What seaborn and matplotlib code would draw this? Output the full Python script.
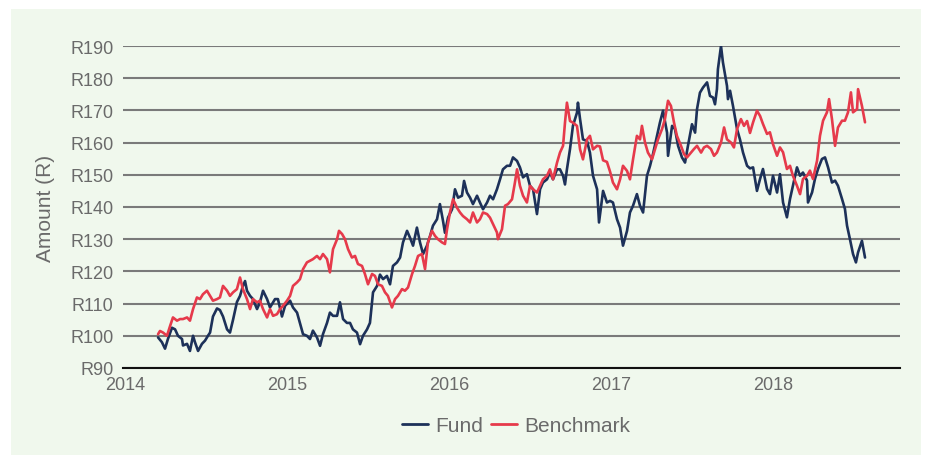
import matplotlib
matplotlib.use("Agg")
import matplotlib.pyplot as plt
import matplotlib.patches as mpatches
import seaborn as sns
import pandas as pd

# ---- data ----
fund_years = [
    2014.204, 2014.228, 2014.247, 2014.265, 2014.290, 2014.309, 2014.327, 2014.352, 2014.358, 2014.383,
    2014.401, 2014.420, 2014.432, 2014.451, 2014.475, 2014.494, 2014.512, 2014.525, 2014.543, 2014.568,
    2014.586, 2014.605, 2014.630, 2014.648, 2014.667, 2014.691, 2014.710, 2014.728, 2014.741, 2014.753,
    2014.772, 2014.790, 2014.815, 2014.833, 2014.852, 2014.877, 2014.895, 2014.926, 2014.944, 2014.969,
    2014.988, 2015.019, 2015.037, 2015.062, 2015.080, 2015.099, 2015.123, 2015.142, 2015.160, 2015.185,
    2015.204, 2015.222, 2015.247, 2015.265, 2015.284, 2015.309, 2015.327, 2015.346, 2015.370, 2015.389,
    2015.407, 2015.432, 2015.451, 2015.469, 2015.494, 2015.512, 2015.531, 2015.556, 2015.574, 2015.593,
    2015.617, 2015.636, 2015.654, 2015.679, 2015.698, 2015.716, 2015.741, 2015.759, 2015.778, 2015.802,
    2015.821, 2015.840, 2015.864, 2015.883, 2015.901, 2015.926, 2015.944, 2015.963, 2015.975, 2015.994,
    2016.019, 2016.037, 2016.056, 2016.080, 2016.093, 2016.111, 2016.130, 2016.148, 2016.173, 2016.191,
    2016.210, 2016.235, 2016.253, 2016.272, 2016.296, 2016.315, 2016.333, 2016.358, 2016.377, 2016.395,
    2016.420, 2016.438, 2016.457, 2016.481, 2016.500, 2016.519, 2016.543, 2016.562, 2016.580, 2016.605,
    2016.623, 2016.642, 2016.667, 2016.685, 2016.704, 2016.716, 2016.728, 2016.747, 2016.765, 2016.790,
    2016.796, 2016.809, 2016.827, 2016.852, 2016.870, 2016.889, 2016.914, 2016.926, 2016.951, 2016.975,
    2016.994, 2017.012, 2017.037, 2017.056, 2017.074, 2017.099, 2017.117, 2017.136, 2017.160, 2017.179,
    2017.198, 2017.222, 2017.241, 2017.259, 2017.284, 2017.302, 2017.321, 2017.346, 2017.352, 2017.377,
    2017.395, 2017.414, 2017.438, 2017.457, 2017.475, 2017.500, 2017.519, 2017.531, 2017.549, 2017.568,
    2017.593, 2017.611, 2017.630, 2017.642, 2017.654, 2017.660, 2017.679, 2017.691, 2017.716, 2017.722,
    2017.735, 2017.753, 2017.778, 2017.796, 2017.815, 2017.840, 2017.858, 2017.877, 2017.901, 2017.920,
    2017.938, 2017.963, 2017.981, 2018.000, 2018.025, 2018.043, 2018.062, 2018.086, 2018.105, 2018.123,
    2018.148, 2018.167, 2018.185, 2018.210, 2018.216, 2018.241, 2018.259, 2018.278, 2018.302, 2018.321,
    2018.340, 2018.364, 2018.383, 2018.401, 2018.426, 2018.444, 2018.457, 2018.475, 2018.494, 2018.512,
    2018.525, 2018.549, 2018.568,
]
fund_values = [
    99.5, 98.0, 96.0, 99.0, 102.5, 102.0, 100.0, 99.0, 97.0, 97.5,
    95.3, 100.0, 98.0, 95.3, 97.5, 98.5, 100.0, 101.0, 106.0, 108.5,
    108.0, 106.0, 102.0, 101.0, 105.0, 110.5, 112.4, 115.5, 117.0, 114.0,
    112.4, 111.4, 108.3, 110.4, 114.0, 111.4, 108.8, 111.4, 111.4, 106.0,
    109.3, 110.9, 108.8, 107.2, 104.0, 100.5, 100.0, 99.0, 101.6, 99.5,
    96.9, 100.5, 104.0, 107.2, 106.2, 106.2, 110.4, 105.2, 104.0, 104.0,
    102.0, 101.0, 97.4, 100.0, 102.0, 104.0, 113.5, 115.5, 119.0, 117.6,
    118.6, 116.0, 121.7, 122.8, 124.3, 129.0, 132.6, 130.5, 128.0, 133.6,
    129.0, 125.4, 128.0, 131.0, 134.2, 136.2, 140.9, 135.7, 132.0, 136.7,
    139.3, 145.5, 142.9, 143.5, 148.1, 144.5, 142.9, 140.9, 143.5, 141.4,
    139.3, 141.4, 143.5, 142.4, 145.5, 148.6, 151.7, 152.8, 152.8, 155.4,
    154.3, 152.3, 149.2, 150.2, 146.6, 145.5, 137.8, 145.5, 147.6, 148.6,
    150.7, 148.6, 151.7, 151.7, 149.7, 147.0, 151.7, 158.0, 165.2, 169.3,
    172.4, 167.3, 161.0, 160.5, 156.9, 149.7, 145.5, 135.2, 145.0, 141.4,
    141.9, 141.4, 136.2, 133.6, 128.0, 132.6, 138.3, 140.4, 144.0, 140.4,
    138.3, 149.7, 152.8, 156.4, 162.1, 166.2, 169.9, 163.1, 155.9, 165.2,
    164.2, 159.0, 155.4, 153.8, 159.0, 165.7, 163.1, 170.4, 175.5, 177.1,
    178.7, 174.5, 174.0, 171.9, 176.6, 182.8, 190.0, 184.9, 177.6, 173.5,
    176.1, 171.4, 164.2, 161.0, 156.9, 152.8, 152.0, 152.3, 145.0, 148.7,
    151.8, 145.6, 144.0, 149.7, 144.5, 150.2, 141.4, 136.8, 142.5, 146.6,
    152.3, 149.7, 150.7, 148.2, 141.4, 144.5, 148.7, 151.8, 154.9, 155.4,
    152.3, 147.6, 148.2, 146.6, 142.5, 139.4, 134.2, 130.0, 125.4, 122.8,
    125.9, 129.5, 124.3,
]

bench_years = [
    2014.204, 2014.216, 2014.235, 2014.259, 2014.278, 2014.296, 2014.321, 2014.340, 2014.358, 2014.383,
    2014.401, 2014.420, 2014.444, 2014.463, 2014.481, 2014.506, 2014.525, 2014.543, 2014.568, 2014.586,
    2014.605, 2014.630, 2014.648, 2014.667, 2014.691, 2014.710, 2014.728, 2014.753, 2014.772, 2014.790,
    2014.815, 2014.833, 2014.852, 2014.877, 2014.895, 2014.914, 2014.938, 2014.957, 2014.975, 2015.000,
    2015.019, 2015.037, 2015.062, 2015.080, 2015.099, 2015.123, 2015.142, 2015.160, 2015.185, 2015.204,
    2015.222, 2015.247, 2015.265, 2015.284, 2015.309, 2015.321, 2015.340, 2015.358, 2015.377, 2015.401,
    2015.420, 2015.438, 2015.463, 2015.481, 2015.500, 2015.525, 2015.543, 2015.562, 2015.586, 2015.605,
    2015.623, 2015.648, 2015.667, 2015.685, 2015.710, 2015.728, 2015.747, 2015.772, 2015.790, 2015.809,
    2015.833, 2015.852, 2015.870, 2015.895, 2015.914, 2015.932, 2015.957, 2015.975, 2015.988, 2016.006,
    2016.025, 2016.049, 2016.068, 2016.086, 2016.111, 2016.130, 2016.148, 2016.173, 2016.191, 2016.210,
    2016.235, 2016.253, 2016.272, 2016.296, 2016.302, 2016.327, 2016.346, 2016.364, 2016.389, 2016.407,
    2016.420, 2016.438, 2016.457, 2016.481, 2016.500, 2016.519, 2016.543, 2016.562, 2016.580, 2016.605,
    2016.623, 2016.642, 2016.667, 2016.685, 2016.704, 2016.716, 2016.728, 2016.747, 2016.765, 2016.790,
    2016.809, 2016.827, 2016.852, 2016.870, 2016.889, 2016.914, 2016.932, 2016.951, 2016.975, 2016.994,
    2017.012, 2017.037, 2017.056, 2017.074, 2017.099, 2017.117, 2017.136, 2017.160, 2017.179, 2017.191,
    2017.210, 2017.228, 2017.253, 2017.272, 2017.290, 2017.315, 2017.333, 2017.352, 2017.370, 2017.389,
    2017.407, 2017.432, 2017.451, 2017.469, 2017.494, 2017.512, 2017.531, 2017.556, 2017.574, 2017.593,
    2017.617, 2017.636, 2017.654, 2017.679, 2017.698, 2017.716, 2017.741, 2017.759, 2017.778, 2017.802,
    2017.821, 2017.840, 2017.858, 2017.877, 2017.901, 2017.920, 2017.938, 2017.963, 2017.981, 2018.000,
    2018.025, 2018.043, 2018.062, 2018.086, 2018.105, 2018.123, 2018.148, 2018.167, 2018.185, 2018.210,
    2018.228, 2018.247, 2018.272, 2018.290, 2018.309, 2018.333, 2018.346, 2018.364, 2018.383, 2018.401,
    2018.426, 2018.444, 2018.463, 2018.481, 2018.494, 2018.519, 2018.525, 2018.549, 2018.568,
]
bench_values = [
    100.5, 101.5, 101.0, 100.0, 103.0, 105.7, 104.7, 105.2, 105.2, 105.7,
    104.7, 108.3, 111.9, 111.4, 112.9, 114.0, 112.4, 110.9, 111.4, 111.9,
    115.5, 114.0, 112.4, 113.5, 114.5, 118.1, 114.5, 111.4, 108.3, 111.4,
    110.4, 110.9, 108.3, 105.7, 108.3, 106.2, 106.7, 108.3, 109.3, 110.9,
    112.4, 115.5, 116.6, 117.6, 120.7, 122.8, 123.3, 123.8, 124.8, 123.8,
    125.4, 123.8, 119.7, 126.9, 130.0, 132.6, 131.6, 130.0, 126.9, 124.3,
    124.8, 122.3, 121.7, 119.2, 116.0, 119.2, 118.6, 116.0, 115.5, 113.5,
    112.4, 108.8, 111.4, 112.4, 114.5, 114.0, 115.0, 119.2, 121.7, 124.8,
    125.4, 120.7, 129.0, 132.6, 131.0, 130.0, 129.0, 128.5, 133.1, 138.3,
    142.4, 139.8, 138.3, 137.2, 136.2, 135.2, 138.3, 135.2, 136.2, 138.3,
    137.8, 136.7, 134.7, 132.1, 130.0, 133.1, 140.4, 140.9, 142.4, 147.6,
    151.7, 146.6, 143.5, 141.4, 146.6, 145.5, 144.5, 146.6, 148.6, 149.7,
    151.7, 148.6, 153.8, 156.9, 159.0, 166.2, 172.4, 166.7, 166.2, 165.2,
    157.9, 154.8, 161.0, 162.1, 157.9, 159.0, 158.8, 154.5, 154.0, 151.0,
    147.6, 145.5, 148.6, 152.8, 151.2, 148.6, 154.8, 162.1, 161.0, 165.2,
    160.0, 156.9, 154.8, 158.0, 161.0, 164.2, 167.3, 173.0, 171.4, 166.2,
    162.1, 159.0, 156.4, 155.4, 156.9, 158.0, 159.0, 156.9, 158.5, 159.0,
    158.0, 155.9, 156.9, 160.0, 164.7, 161.0, 160.0, 158.5, 164.2, 167.3,
    165.2, 166.7, 163.0, 166.3, 169.9, 168.3, 165.8, 162.7, 163.2, 159.5,
    155.9, 158.5, 157.0, 151.8, 152.8, 149.7, 146.6, 144.0, 148.7, 149.7,
    151.3, 148.7, 154.4, 162.1, 166.8, 169.4, 173.5, 167.3, 159.0, 164.7,
    166.8, 166.8, 169.4, 175.6, 169.4, 170.4, 176.6, 171.4, 166.3,
]

series_names = ["Fund", "Benchmark"]
series_colors = ["#1d3159", "#e63a4b"]
y_ticks = [90, 100, 110, 120, 130, 140, 150, 160, 170, 180, 190]
x_ticks = [2014, 2015, 2016, 2017, 2018]

df = pd.concat([
    pd.DataFrame({"Year": fund_years, "Amount": fund_values, "Series": series_names[0]}),
    pd.DataFrame({"Year": bench_years, "Amount": bench_values, "Series": series_names[1]}),
], ignore_index=True)

# ---- style ----
sns.set_style("white")
plt.rcParams["font.family"] = ["Liberation Sans", "DejaVu Sans"]

BG = "#f0f8ed"
TXT = "#6a6a6a"

fig = plt.figure(figsize=(9.25, 4.56), dpi=100, facecolor="white")
bg_rect = mpatches.Rectangle((11 / 925, 0), (921 - 11) / 925, (456 - 10) / 456,
                             transform=fig.transFigure, facecolor=BG,
                             edgecolor="none", zorder=-10)
fig.patches.append(bg_rect)
ax = fig.add_axes([123 / 925, (456 - 369) / 456, (900 - 123) / 925, (369 - 47) / 456])
ax.set_zorder(1)
ax.set_facecolor(BG)

sns.lineplot(data=df, x="Year", y="Amount", hue="Series", hue_order=series_names,
             palette=dict(zip(series_names, series_colors)), estimator=None, sort=False,
             linewidth=1.9, ax=ax, zorder=3)

ax.set_xlim(2014 - 2 / 162, 2014 + 775 / 162)
ax.set_ylim(90, 190)
ax.set_yticks(y_ticks)
ax.set_yticklabels([f"R{v}" for v in y_ticks])
ax.set_xticks(x_ticks)
ax.set_xticklabels([str(v) for v in x_ticks])

ax.grid(axis="y", color="#7a7a7a", linewidth=1.5, zorder=1)
ax.grid(axis="x", visible=False)
for s in ["top", "right", "left"]:
    ax.spines[s].set_visible(False)
ax.spines["bottom"].set_color("#111111")
ax.spines["bottom"].set_linewidth(1.5)
ax.spines["bottom"].set_zorder(4)

ax.tick_params(axis="y", length=0, pad=7, labelsize=13, labelcolor=TXT)
ax.tick_params(axis="x", direction="in", length=6, width=1.5, color="#111111",
               pad=6, labelsize=13, labelcolor=TXT)

ax.set_xlabel("")
ax.set_ylabel("Amount (R)", fontsize=15, color=TXT)
ax.yaxis.set_label_coords(-0.088, 0.5)

handles, labels = ax.get_legend_handles_labels()
leg = ax.legend(handles, labels, loc="center", bbox_to_anchor=(0.506, -0.18), ncol=2,
                frameon=False, fontsize=15, handlelength=1.25, handletextpad=0.35,
                columnspacing=0.4, borderaxespad=0)
for t in leg.get_texts():
    t.set_color(TXT)
for h in leg.get_lines():
    h.set_linewidth(2.0)

fig.savefig("out.png", dpi=100, facecolor="white")
